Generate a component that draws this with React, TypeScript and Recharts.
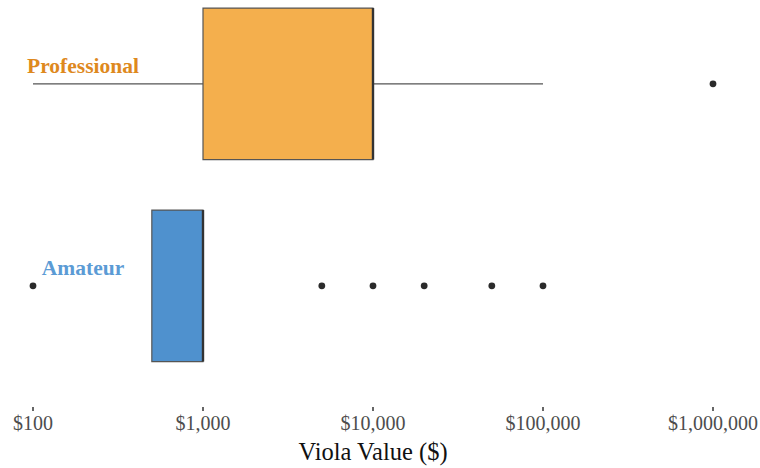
import React from "react";
import {
  ScatterChart,
  Scatter,
  XAxis,
  YAxis,
  ReferenceArea,
  ReferenceLine,
  Label,
} from "recharts";

// rows, top to bottom
const categories = ["Professional", "Amateur"];
const rowPos = [1.5, 0.5];
const whiskerLow = [100, 500];
const q1 = [1000, 500];
const median = [10000, 1000];
const q3 = [10000, 1000];
const whiskerHigh = [100000, 1000];
const outliers = [[1000000], [100, 5000, 10000, 20000, 50000, 100000]];

const xTicks = [100, 1000, 10000, 100000, 1000000];

const fills = ["#F4AF4D", "#4F91CE"];
const labelColors = ["#DE891E", "#5B9BD5"];
const HALF = 0.375;
const LABEL_X = 83;
const serif = "'Liberation Serif', 'Times New Roman', serif";

const outlierData = outliers.flatMap((list, i) => list.map((v) => ({ x: v, y: rowPos[i] })));

const fmt = (v: number) => "$" + v.toLocaleString("en-US");

function RowTick(props: any) {
  const { y, payload } = props;
  const i = rowPos.indexOf(payload.value);
  if (i < 0) return null;
  return (
    <text
      x={LABEL_X}
      y={y - 11}
      textAnchor="middle"
      fill={labelColors[i]}
      fontFamily={serif}
      fontWeight="bold"
      fontSize={21.5}
    >
      {categories[i]}
    </text>
  );
}

const Dot = (props: any) => <circle cx={props.cx} cy={props.cy} r={3.4} fill="#2b2b2b" />;

export default function App() {
  return (
    <div style={{ position: "absolute", left: 0, top: 0, background: "#fff", fontFamily: serif }}>
      <ScatterChart width={760} height={468} margin={{ top: 3, right: 47, bottom: 0, left: 0 }}>
        <XAxis
          dataKey="x"
          type="number"
          scale="log"
          domain={[100, 1000000]}
          ticks={xTicks}
          axisLine={false}
          tickLine={{ stroke: "#333", strokeWidth: 1.5 }}
          tickSize={4}
          tickMargin={5}
          height={61}
          interval={0}
          tickFormatter={fmt}
          tick={{ fill: "#4d4d4d", fontSize: 20, fontFamily: serif }}
        >
          <Label
            value="Viola Value ($)"
            position="insideBottom"
            offset={8}
            style={{ fill: "#111", fontSize: 24.5, fontFamily: serif }}
          />
        </XAxis>
        <YAxis
          dataKey="y"
          type="number"
          domain={[-0.1, 1.9]}
          ticks={rowPos}
          width={33}
          axisLine={false}
          tickLine={false}
          tick={<RowTick />}
        />
        {categories.map((c, i) => (
          <ReferenceLine
            key={c + "-lo"}
            segment={[{ x: whiskerLow[i], y: rowPos[i] }, { x: q1[i], y: rowPos[i] }]}
            stroke="#555"
            strokeWidth={1.2}
          />
        ))}
        {categories.map((c, i) => (
          <ReferenceLine
            key={c + "-hi"}
            segment={[{ x: q3[i], y: rowPos[i] }, { x: whiskerHigh[i], y: rowPos[i] }]}
            stroke="#555"
            strokeWidth={1.2}
          />
        ))}
        {categories.map((c, i) => (
          <ReferenceArea
            key={c + "-box"}
            x1={q1[i]}
            x2={q3[i]}
            y1={rowPos[i] - HALF}
            y2={rowPos[i] + HALF}
            fill={fills[i]}
            fillOpacity={1}
            stroke="#555"
            strokeWidth={1.2}
          />
        ))}
        {categories.map((c, i) => (
          <ReferenceLine
            key={c + "-med"}
            segment={[{ x: median[i], y: rowPos[i] - HALF }, { x: median[i], y: rowPos[i] + HALF }]}
            stroke="#333"
            strokeWidth={2.4}
          />
        ))}
        <Scatter data={outlierData} shape={<Dot />} isAnimationActive={false} />
      </ScatterChart>
    </div>
  );
}
